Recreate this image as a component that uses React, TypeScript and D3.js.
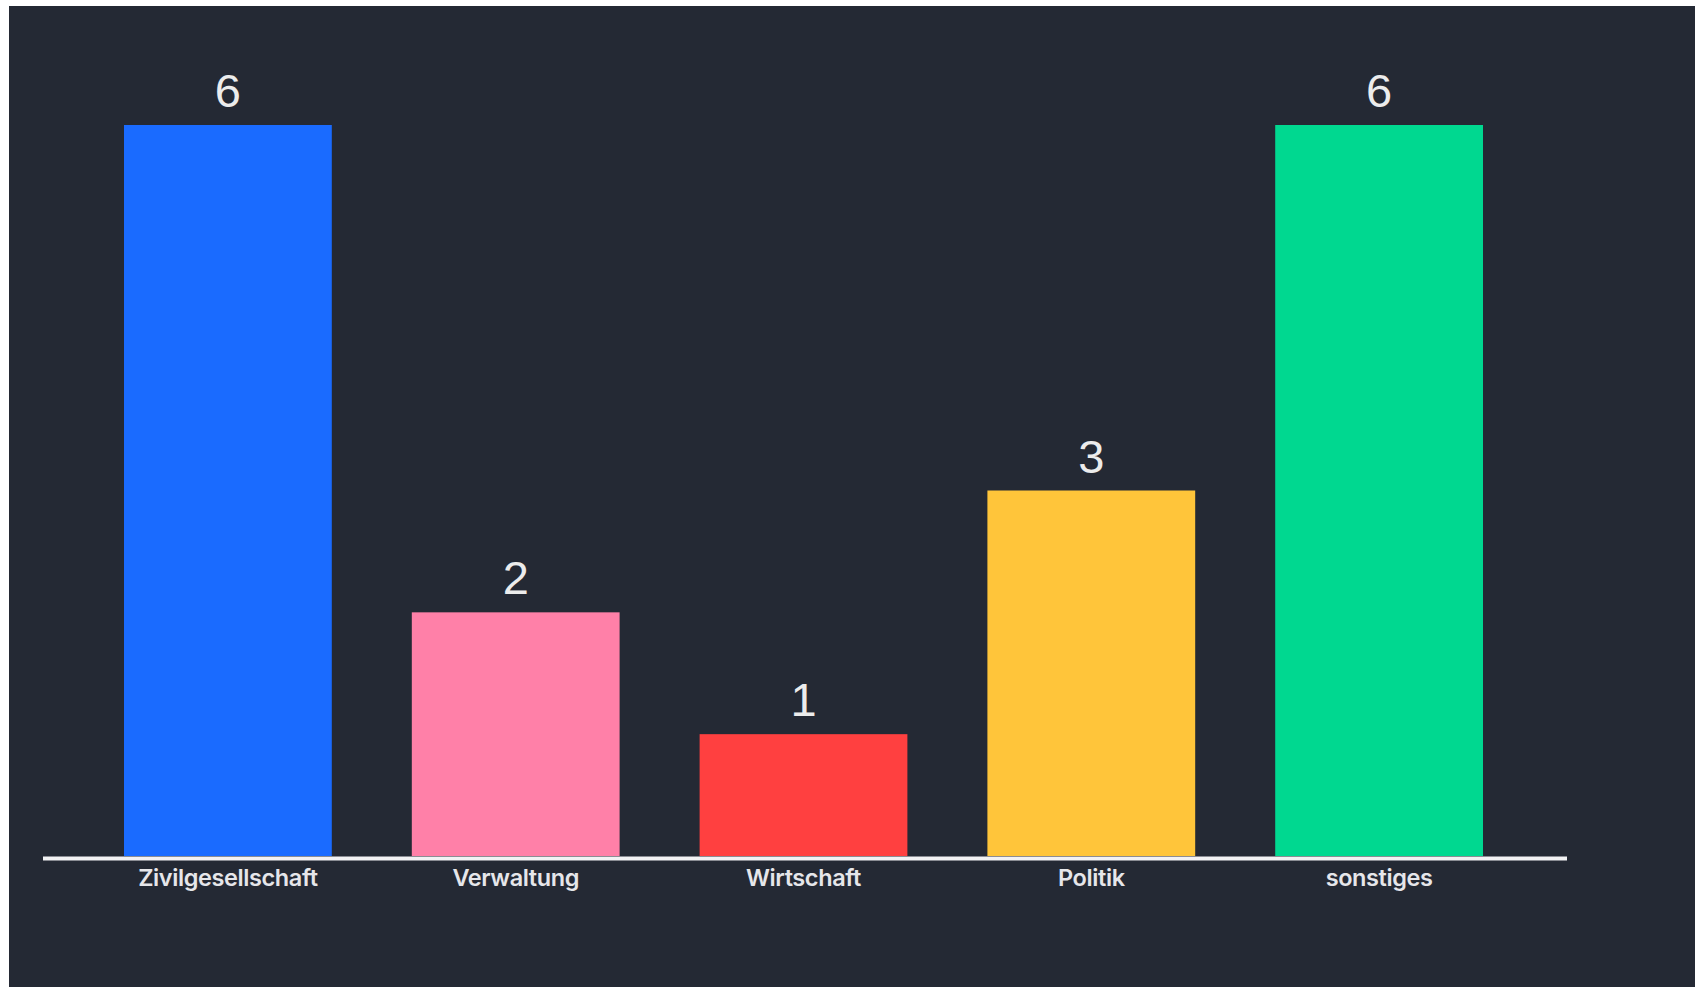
import React from "react";
import * as d3 from "d3";

const categories = ["Zivilgesellschaft", "Verwaltung", "Wirtschaft", "Politik", "sonstiges"];
const values = [6, 2, 1, 3, 6];
const colors = ["#1a6bff", "#ff80a8", "#ff4040", "#ffc53a", "#00d890"];

const W = 1695;
const H = 987;

export default function App() {
  const x = d3.scaleBand<string>().domain(categories).range([84, 1523]).paddingInner(0.278).paddingOuter(0.139);
  const y = d3.scaleLinear().domain([0, 6]).range([856, 125]);
  return (
    <svg width={W} height={H} style={{ position: "absolute", left: 0, top: 0 }}>
      <rect x={0} y={0} width={W} height={H} fill="#ffffff" />
      <rect x={9} y={6} width={W - 9} height={H - 6} fill="#242934" />
      {categories.map((c, i) => (
        <g key={c}>
          <rect x={x(c)} y={y(values[i])} width={x.bandwidth()} height={y(0) - y(values[i])} fill={colors[i]} />
          <text
            x={(x(c) as number) + x.bandwidth() / 2}
            y={y(values[i]) - 18}
            textAnchor="middle"
            fill="#ececec"
            fontFamily="'Liberation Sans', Arial, sans-serif"
            fontSize={47}
          >
            {values[i]}
          </text>
          <text
            x={(x(c) as number) + x.bandwidth() / 2}
            y={886}
            textAnchor="middle"
            fill="#e6e6ea"
            fontFamily="Inter, 'Noto Sans', sans-serif"
            fontWeight={600}
            fontSize={23.5}
            letterSpacing={-0.4}
          >
            {c}
          </text>
        </g>
      ))}
      <line x1={43} x2={1567} y1={858.5} y2={858.5} stroke="#f2f2f4" strokeWidth={4} />
    </svg>
  );
}
